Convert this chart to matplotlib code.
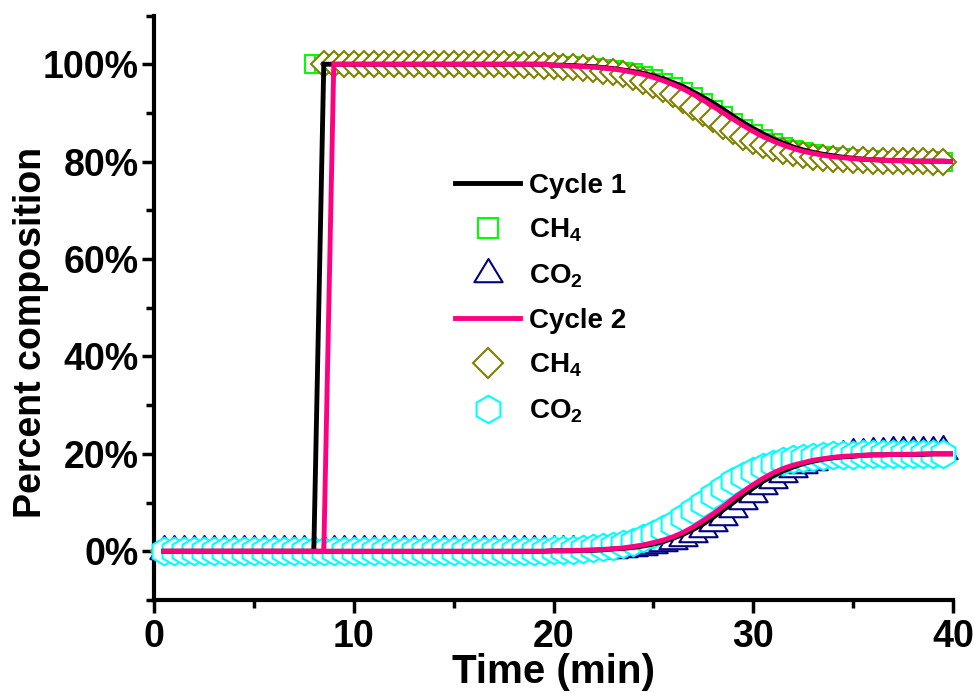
import numpy as np
import matplotlib
matplotlib.use('Agg')
import matplotlib.pyplot as plt
from matplotlib.lines import Line2D
from matplotlib.path import Path
from matplotlib.ticker import FixedLocator, PercentFormatter

plt.rcParams['font.family'] = ['Liberation Sans', 'DejaVu Sans']
plt.rcParams['font.weight'] = 'bold'
plt.rcParams['mathtext.fontset'] = 'custom'
plt.rcParams['mathtext.rm'] = 'Liberation Sans:bold'
plt.rcParams['mathtext.bf'] = 'Liberation Sans:bold'
plt.rcParams['mathtext.it'] = 'Liberation Sans:bold'
plt.rcParams['mathtext.default'] = 'rm'

# tiempo (min), un punto cada 0.5 min
time = np.arange(1, 81) * 0.5

# curvas ajustadas (lineas)
c1_ch4_fit = [0.0] * 16 + [1.0] * 23 + [
    0.998, 0.998, 0.997, 0.996, 0.995, 0.993, 0.991, 0.988, 0.985, 0.981,
    0.976, 0.970, 0.962, 0.954, 0.943, 0.932, 0.920, 0.907, 0.893, 0.880,
    0.868, 0.857, 0.846, 0.838, 0.830, 0.824, 0.819, 0.815, 0.812, 0.809,
    0.807, 0.805, 0.804, 0.803, 0.802, 0.802, 0.801, 0.801, 0.801, 0.801, 0.800]
c1_co2_fit = [0.0] * 39 + [
    0.001, 0.001, 0.001, 0.002, 0.002, 0.003, 0.005, 0.006, 0.008, 0.011,
    0.015, 0.020, 0.027, 0.035, 0.045, 0.056, 0.070, 0.085, 0.100, 0.116,
    0.130, 0.144, 0.155, 0.165, 0.173, 0.180, 0.185, 0.189, 0.192, 0.194,
    0.195, 0.197, 0.198, 0.198, 0.199, 0.199, 0.199, 0.199, 0.200, 0.200, 0.200]
c2_ch4_fit = [0.0] * 17 + [1.0] * 22 + [
    0.998, 0.997, 0.996, 0.995, 0.994, 0.992, 0.990, 0.987, 0.983, 0.979,
    0.973, 0.966, 0.958, 0.949, 0.938, 0.926, 0.913, 0.900, 0.887, 0.874,
    0.862, 0.851, 0.842, 0.834, 0.827, 0.821, 0.817, 0.813, 0.810, 0.808,
    0.806, 0.805, 0.804, 0.803, 0.802, 0.802, 0.801, 0.801, 0.801, 0.801, 0.800]
c2_co2_fit = [0.0] * 39 + [
    0.001, 0.001, 0.002, 0.002, 0.003, 0.004, 0.005, 0.007, 0.010, 0.013,
    0.018, 0.023, 0.030, 0.039, 0.050, 0.063, 0.077, 0.092, 0.108, 0.123,
    0.137, 0.150, 0.161, 0.170, 0.177, 0.182, 0.187, 0.190, 0.193, 0.195,
    0.196, 0.197, 0.198, 0.198, 0.199, 0.199, 0.199, 0.200, 0.200, 0.200, 0.200]

# datos medidos (simbolos)
c1_ch4_data = [0.0] * 15 + [1.0] * 21 + [0.999, 0.999, 0.998] + [
    0.998, 0.997, 0.996, 0.995, 0.993, 0.991, 0.988, 0.985, 0.981, 0.976,
    0.970, 0.962, 0.954, 0.943, 0.932, 0.920, 0.907, 0.893, 0.880, 0.868,
    0.857, 0.846, 0.838, 0.830, 0.824, 0.819, 0.815, 0.812, 0.809, 0.807,
    0.805, 0.804, 0.803, 0.802, 0.802, 0.801, 0.801, 0.801, 0.801, 0.800, 0.800]
c1_co2_data = [0.0] * 39 + [
    0.001, 0.001, 0.001, 0.001, 0.002, 0.003, 0.003, 0.005, 0.006, 0.009,
    0.012, 0.016, 0.021, 0.027, 0.036, 0.046, 0.058, 0.071, 0.087, 0.103,
    0.118, 0.134, 0.147, 0.159, 0.169, 0.178, 0.184, 0.189, 0.193, 0.196,
    0.199, 0.200, 0.202, 0.202, 0.203, 0.204, 0.204, 0.204, 0.204, 0.205, 0.205]
c2_ch4_data = [0.0] * 16 + [1.0] * 19 + [0.999, 0.998, 0.998, 0.997] + [
    0.996, 0.995, 0.994, 0.992, 0.990, 0.987, 0.983, 0.979, 0.973, 0.966,
    0.958, 0.949, 0.938, 0.926, 0.913, 0.900, 0.887, 0.874, 0.862, 0.851,
    0.842, 0.834, 0.827, 0.821, 0.817, 0.813, 0.810, 0.808, 0.806, 0.805,
    0.804, 0.803, 0.802, 0.802, 0.801, 0.801, 0.801, 0.801, 0.800, 0.800, 0.800]
c2_co2_data = [0.0] * 35 + [0.001, 0.001, 0.001, 0.001] + [
    0.002, 0.002, 0.003, 0.005, 0.006, 0.008, 0.011, 0.015, 0.020, 0.027,
    0.035, 0.045, 0.056, 0.070, 0.085, 0.100, 0.116, 0.130, 0.144, 0.155,
    0.165, 0.173, 0.180, 0.185, 0.189, 0.192, 0.194, 0.195, 0.197, 0.198,
    0.198, 0.199, 0.199, 0.199, 0.199, 0.200, 0.200, 0.200, 0.200, 0.200, 0.200]

x_ticks = [0, 10, 20, 30, 40]
y_ticks = [0.0, 0.2, 0.4, 0.6, 0.8, 1.0]

# triangulo centrado en su baricentro (como Origin)
tri = Path([(0, 0.667), (-0.609, -0.333), (0.609, -0.333), (0, 0.667)],
           [Path.MOVETO, Path.LINETO, Path.LINETO, Path.CLOSEPOLY])

estilos = [
    dict(marker='s', ms=12.5, mec='#00FF00'),
    dict(marker=tri, ms=22.3, mec='#000080'),
    dict(marker='D', ms=13.5, mec='#808000'),
    dict(marker='h', ms=19.8, mec='#00FFFF'),
]
for e in estilos:
    e.update(mfc='white', mew=1.5, ls='none')
# en la leyenda los simbolos se ven algo mayores
tam_leyenda = [15.0, 22.3, 15.0, 19.8]

fig = plt.figure(figsize=(9.74, 6.93), dpi=100)
ax = fig.add_axes([154 / 974, 1 - 600 / 693, 799 / 974, 584.5 / 693])

datos = [c1_ch4_data, c1_co2_data, c2_ch4_data, c2_co2_data]
for i, (serie, e) in enumerate(zip(datos, estilos)):
    ax.plot(time[:-1], serie[:-1], zorder=2 + i, clip_on=False, **e)

ax.plot(time, c1_ch4_fit, color='black', lw=3.5, solid_joinstyle='miter', zorder=10)
ax.plot(time, c1_co2_fit, color='black', lw=3.5, solid_joinstyle='miter', zorder=10)
ax.plot(time, c2_ch4_fit, color='#FF0080', lw=3.5, solid_joinstyle='miter', zorder=11)
ax.plot(time, c2_co2_fit, color='#FF0080', lw=3.5, solid_joinstyle='miter', zorder=11)

ax.set_xlim(0, 40)
ax.set_ylim(-0.1, 1.1)
ax.xaxis.set_major_locator(FixedLocator(x_ticks))
ax.xaxis.set_minor_locator(FixedLocator([5, 15, 25, 35]))
ax.yaxis.set_major_locator(FixedLocator(y_ticks))
ax.yaxis.set_minor_locator(FixedLocator([-0.1, 0.1, 0.3, 0.5, 0.7, 0.9, 1.1]))
ax.yaxis.set_major_formatter(PercentFormatter(xmax=1, decimals=0))

for lado in ['top', 'right']:
    ax.spines[lado].set_visible(False)
for lado in ['left', 'bottom']:
    ax.spines[lado].set_linewidth(3)

ax.tick_params(which='major', direction='out', length=9, width=2.5, labelsize=27)
ax.tick_params(which='minor', direction='out', length=6, width=2.5)
ax.tick_params(axis='x', pad=5)
ax.tick_params(axis='y', pad=2)

ax.set_xlabel('Time (min)', fontsize=29, fontweight='bold', labelpad=-2)
ax.set_ylabel('Percent composition', fontsize=27, fontweight='bold')
ax.yaxis.set_label_coords(-0.131, 0.4585)

# leyenda
handles = [Line2D([], [], color='black', lw=3.5)]
for i in range(4):
    e = dict(estilos[i], ms=tam_leyenda[i])
    handles.append(Line2D([], [], **e))
    if i == 1:
        handles.append(Line2D([], [], color='#FF0080', lw=3.5))
labels = ['Cycle 1', r'CH$_4$', r'CO$_2$', 'Cycle 2', r'CH$_4$', r'CO$_2$']
ax.legend(handles, labels, loc='upper left', bbox_to_anchor=(0.3767, 0.731),
          frameon=False, handlelength=2.35, labelspacing=0.65,
          handletextpad=0.3, borderpad=0, borderaxespad=0,
          prop={'size': 20, 'weight': 'bold'})

fig.savefig('out.png', dpi=100)
